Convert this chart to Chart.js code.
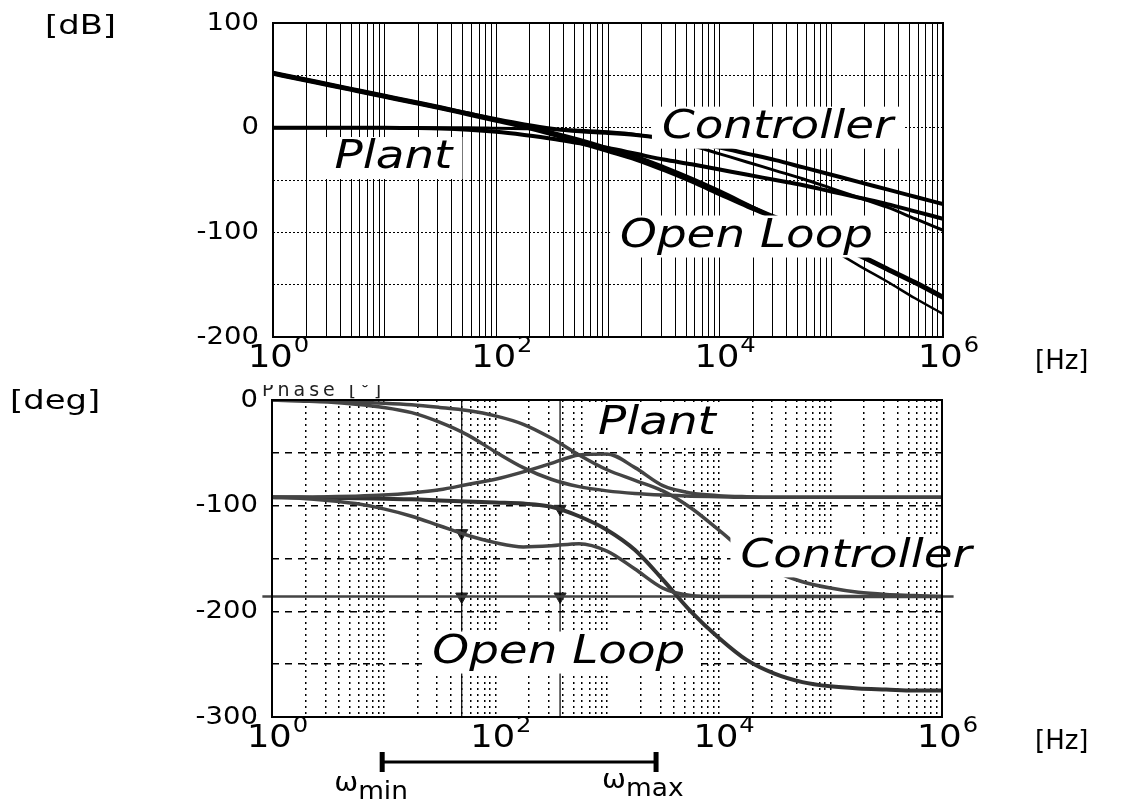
<!DOCTYPE html>
<html>
<head>
<meta charset="utf-8">
<script src="https://cdn.jsdelivr.net/npm/chart.js@4.4.1/dist/chart.umd.min.js"></script>
<style>
  html, body { margin: 0; padding: 0; background: #fff; }
  #wrap { position: relative; width: 1123px; height: 805px; overflow: hidden; }
  #gainBox { position: absolute; left: 0; top: 0; width: 1123px; height: 380px; }
  #phaseBox { position: absolute; left: 0; top: 380px; width: 1123px; height: 425px; }
</style>
</head>
<body>
<div id="wrap">
  <div id="gainBox"><canvas id="gainChart"></canvas></div>
  <div id="phaseBox"><canvas id="phaseChart"></canvas></div>
</div>
<script>
// Bode diagram: plant, controller and open loop (gain on top, phase below)

const freqHz = [1, 1.78, 3.16, 5.62, 10, 17.8, 31.6, 56.2, 100, 178, 316, 562,
  1000, 1780, 3160, 5620, 10000, 17800, 31600, 56200, 100000, 178000, 316000, 562000, 1000000];

// gain [dB]
const gainController = [52, 46.5, 41, 35.5, 30, 24.5, 19, 13.5, 8, 3, -1, -3.5, -5, -7, -10, -14, -19, -25, -31, -38, -45, -52, -59, -66, -73];
const gainPlant1 = [0, 0, 0, 0, 0, -0.3, -0.8, -2, -4, -7, -10.5, -15, -19.5, -25, -30.5, -35, -40, -45, -50, -55, -61, -67, -73, -80, -87];
const gainPlant2 = [0, 0, 0, 0, 0, 0, 0, 0, -0.5, -1, -1.5, -2.5, -4, -6.5, -11, -17, -25, -33, -41, -49, -58, -67, -76, -87, -98];
const gainOpenLoop1 = [52, 46.5, 41, 35.5, 30, 24.5, 19, 13, 7, 1, -6, -14, -22, -30, -40, -51, -63, -75, -86, -97, -109, -122, -135, -148, -162];
const gainOpenLoop2 = [52, 46.5, 41, 35.5, 30, 24.5, 19, 13, 7.5, 2, -4, -11, -19, -27, -37, -48, -60, -73, -86, -100, -116, -132, -147, -163, -178];

// phase [deg]
const phasePlant1 = [0, -1, -2, -4, -7, -12, -21, -33, -49, -64, -75, -82, -86, -88.5, -90, -91, -91.5, -92, -92, -92, -92, -92, -92, -92, -92];
const phasePlant2 = [0, -0.5, -1, -2, -3, -4.5, -7, -10, -15, -23, -36, -52, -66, -76, -86, -102, -123, -145, -162, -172, -178, -182, -184, -185, -186];
const phaseController = [-92, -92, -91.5, -91, -90, -88, -85, -80, -75, -68, -60, -52, -51, -64, -81, -88, -90.5, -91.5, -92, -92, -92, -92, -92, -92, -92];
const phaseOpenLoop1 = [-92, -93, -95, -98, -103, -110, -119, -128, -135, -139, -138, -136, -143, -160, -178, -185, -186, -186, -186, -186, -186, -186, -186, -186, -186];
const phaseOpenLoop2 = [-92, -92, -92.5, -93, -93.5, -94, -95, -96, -97, -98, -101, -110, -123, -142, -170, -200, -225, -246, -259, -267, -271, -273, -274, -275, -275];

// marked frequencies and the -180 reference line
const markerFreqs = [50, 380];
const markerPhases = [-126, -103];
const refPhase = -186;
const omegaMin = 9.7;
const omegaMax = 2750;

// axis ticks
const gainTicks = [100, 0, -100, -200];
const phaseTicks = [0, -100, -200, -300];
const decadeFreqs = [1, 100, 10000, 1000000];
const decadeExps = ['0', '2', '4', '6'];

const FONT = "'DejaVu Sans', sans-serif";
const TICK_FONT = '25px ' + FONT;
const NOTE_FONT = 'italic 39px ' + FONT;
const UNIT_FONT = '26px ' + FONT;

// every 1..9 x 10^n line of the log grid
const gridFreqs = [];
for (let e = 0; e < 6; e++) {
  for (let m = 1; m < 10; m++) gridFreqs.push(m * Math.pow(10, e));
}
gridFreqs.push(1000000);

function curve(values, width, color) {
  return {
    data: freqHz.map((f, i) => ({ x: f, y: values[i] })),
    borderColor: color,
    borderWidth: width,
    pointRadius: 0,
    cubicInterpolationMode: 'monotone',
    fill: false
  };
}

// the scanned figure has slightly widened lettering
function wideText(ctx, text, x, y, font, align, stretch) {
  stretch = stretch || 1.1;
  ctx.save();
  ctx.font = font;
  ctx.textBaseline = 'middle';
  ctx.fillStyle = '#000';
  const w = ctx.measureText(text).width * stretch;
  let left = x;
  if (align === 'center') left = x - w / 2;
  if (align === 'right') left = x - w;
  ctx.translate(left, y);
  ctx.scale(stretch, 1);
  ctx.textAlign = 'left';
  ctx.fillText(text, 0, 0);
  ctx.restore();
  return w;
}

function noteBox(ctx, chart, note) {
  ctx.save();
  ctx.font = NOTE_FONT;
  const w = ctx.measureText(note.text).width * 1.2;
  ctx.restore();
  const px = chart.scales.x.getPixelForValue(note.f);
  const py = chart.scales.y.getPixelForValue(note.v);
  ctx.save();
  ctx.fillStyle = '#fff';
  ctx.fillRect(px - w / 2 - 10, py - 21, w + 20, 42);
  ctx.restore();
  wideText(ctx, note.text, px, py, NOTE_FONT, 'center', 1.2);
}

function decadeLabels(ctx, chart, yPix) {
  const xs = chart.scales.x;
  decadeFreqs.forEach((f, i) => {
    const px = xs.getPixelForValue(f);
    ctx.save();
    ctx.font = '32px ' + FONT;
    const wBase = ctx.measureText('10').width * 1.1;
    ctx.font = '22px ' + FONT;
    const wExp = ctx.measureText(decadeExps[i]).width * 1.1;
    ctx.restore();
    const left = px - (wBase + wExp) / 2 + 5;
    wideText(ctx, '10', left, yPix, '32px ' + FONT, 'left');
    wideText(ctx, decadeExps[i], left + wBase + 1, yPix - 13, '22px ' + FONT, 'left');
  });
}

function frame(ctx, area) {
  ctx.save();
  ctx.strokeStyle = '#000';
  ctx.lineWidth = 2;
  ctx.strokeRect(area.left, area.top, area.right - area.left, area.bottom - area.top);
  ctx.restore();
}

const gainNotes = [
  { text: 'Controller', f: 33000, v: 0 },
  { text: 'Plant', f: 12, v: -29 },
  { text: 'Open Loop', f: 17400, v: -104 }
];
const phaseNotes = [
  { text: 'Plant', f: 2800, v: -23 },
  { text: 'Controller', f: 170000, v: -148 },
  { text: 'Open Loop', f: 370, v: -239 }
];

const gainDecor = {
  id: 'gainDecor',
  afterDatasetsDraw(chart) {
    gainNotes.forEach(n => noteBox(chart.ctx, chart, n));
  },
  afterDraw(chart) {
    const ctx = chart.ctx;
    const area = chart.chartArea;
    frame(ctx, area);
    gainTicks.forEach(v => {
      wideText(ctx, String(v), area.left - 14, chart.scales.y.getPixelForValue(v), TICK_FONT, 'right');
    });
    decadeLabels(ctx, chart, area.bottom + 22);
    wideText(ctx, '[dB]', 45, 27, UNIT_FONT, 'left', 1.3);
    wideText(ctx, '[Hz]', 1035, area.bottom + 25, UNIT_FONT, 'left', 1.0);
  }
};

const phaseDecor = {
  id: 'phaseDecor',
  afterDatasetsDraw(chart) {
    phaseNotes.forEach(n => noteBox(chart.ctx, chart, n));
  },
  afterDraw(chart) {
    const ctx = chart.ctx;
    const area = chart.chartArea;
    const xs = chart.scales.x;
    frame(ctx, area);
    phaseTicks.forEach(v => {
      wideText(ctx, String(v), area.left - 14, chart.scales.y.getPixelForValue(v), TICK_FONT, 'right');
    });
    decadeLabels(ctx, chart, area.bottom + 22);
    wideText(ctx, '[deg]', 10, 22, UNIT_FONT, 'left', 1.3);
    wideText(ctx, '[Hz]', 1035, area.bottom + 25, UNIT_FONT, 'left', 1.0);

    // half-cut "Phase [°]" caption of the original scan
    ctx.save();
    ctx.beginPath();
    ctx.rect(258, 5, 200, 15);
    ctx.clip();
    ctx.font = '19px ' + FONT;
    ctx.letterSpacing = '4px';
    ctx.fillStyle = '#222';
    ctx.textBaseline = 'alphabetic';
    ctx.fillText('Phase [°]', 262, 16);
    ctx.restore();

    // omega_min .. omega_max bar
    const x1 = xs.getPixelForValue(omegaMin);
    const x2 = xs.getPixelForValue(omegaMax);
    const yb = area.bottom + 45;
    ctx.save();
    ctx.strokeStyle = '#000';
    ctx.lineWidth = 3;
    ctx.beginPath();
    ctx.moveTo(x1, yb);
    ctx.lineTo(x2, yb);
    ctx.stroke();
    ctx.lineWidth = 5;
    ctx.beginPath();
    ctx.moveTo(x1, yb - 10);
    ctx.lineTo(x1, yb + 10);
    ctx.moveTo(x2, yb - 10);
    ctx.lineTo(x2, yb + 10);
    ctx.stroke();
    ctx.restore();
    const yw = area.bottom + 67;
    const wOm1 = wideText(ctx, 'ω', x1 - 48, yw, '26px ' + FONT, 'left');
    wideText(ctx, 'min', x1 - 48 + wOm1, yw + 9, '24px ' + FONT, 'left');
    const wOm2 = wideText(ctx, 'ω', x2 - 54, yw - 3, '26px ' + FONT, 'left');
    wideText(ctx, 'max', x2 - 54 + wOm2, yw + 6, '24px ' + FONT, 'left');
  }
};

function logAxis(gridDash, gridWidth) {
  return {
    type: 'logarithmic',
    min: 1,
    max: 1000000,
    afterBuildTicks: scale => { scale.ticks = gridFreqs.map(v => ({ value: v })); },
    afterFit: scale => { scale.height = 0; },
    ticks: { display: false },
    grid: { color: '#000', lineWidth: gridWidth, drawTicks: false },
    border: { display: false, dash: gridDash }
  };
}

function baseOptions(xAxis, yAxis, padding) {
  return {
    responsive: true,
    maintainAspectRatio: false,
    animation: false,
    devicePixelRatio: 1,
    layout: { padding: padding },
    plugins: { legend: { display: false }, tooltip: { enabled: false } },
    scales: { x: xAxis, y: yAxis }
  };
}

// ---- gain chart ----
const gainX = logAxis([], 1);
const gainY = {
  type: 'linear', min: -200, max: 100,
  afterFit: scale => { scale.width = 0; },
  ticks: { display: false, stepSize: 50 },
  grid: { color: '#000', lineWidth: 1, drawTicks: false },
  border: { display: false, dash: [2, 2] }
};

new Chart(document.getElementById('gainChart'), {
  type: 'line',
  data: {
    datasets: [
      curve(gainController, 4, '#000'),
      curve(gainPlant1, 4, '#000'),
      curve(gainPlant2, 3, '#000'),
      curve(gainOpenLoop1, 5, '#000'),
      curve(gainOpenLoop2, 2.5, '#000')
    ]
  },
  options: baseOptions(gainX, gainY, { left: 273, right: 180, top: 23, bottom: 43 }),
  plugins: [gainDecor]
});

// ---- phase chart ----
const phaseX = logAxis([2, 4], 1.5);
const phaseY = {
  type: 'linear', min: -300, max: 0,
  afterFit: scale => { scale.width = 0; },
  ticks: { display: false, stepSize: 50 },
  grid: { color: '#000', lineWidth: 1.5, drawTicks: false },
  border: { display: false, dash: [7, 6] }
};

const phaseSets = [
  curve(phasePlant1, 3.5, '#444'),
  curve(phasePlant2, 3.5, '#444'),
  curve(phaseController, 3.5, '#444'),
  curve(phaseOpenLoop1, 3.5, '#444'),
  curve(phaseOpenLoop2, 4, '#333'),
  {
    data: [{ x: 0.82, y: refPhase }, { x: 1270000, y: refPhase }],
    borderColor: '#444', borderWidth: 2.5, pointRadius: 0, clip: false
  }
];
markerFreqs.forEach((f, i) => {
  phaseSets.push({
    data: [{ x: f, y: 0 }, { x: f, y: -300 }],
    borderColor: '#000', borderWidth: 1.2, pointRadius: 0
  });
  phaseSets.push({
    data: [{ x: f, y: markerPhases[i] }, { x: f, y: refPhase }],
    showLine: false,
    pointStyle: 'triangle',
    rotation: 180,
    pointRadius: 7,
    backgroundColor: '#222',
    borderColor: '#222',
    borderWidth: 1
  });
});

new Chart(document.getElementById('phaseChart'), {
  type: 'line',
  data: { datasets: phaseSets },
  options: baseOptions(phaseX, phaseY, { left: 272, right: 181, top: 20, bottom: 88 }),
  plugins: [phaseDecor]
});
</script>
</body>
</html>
